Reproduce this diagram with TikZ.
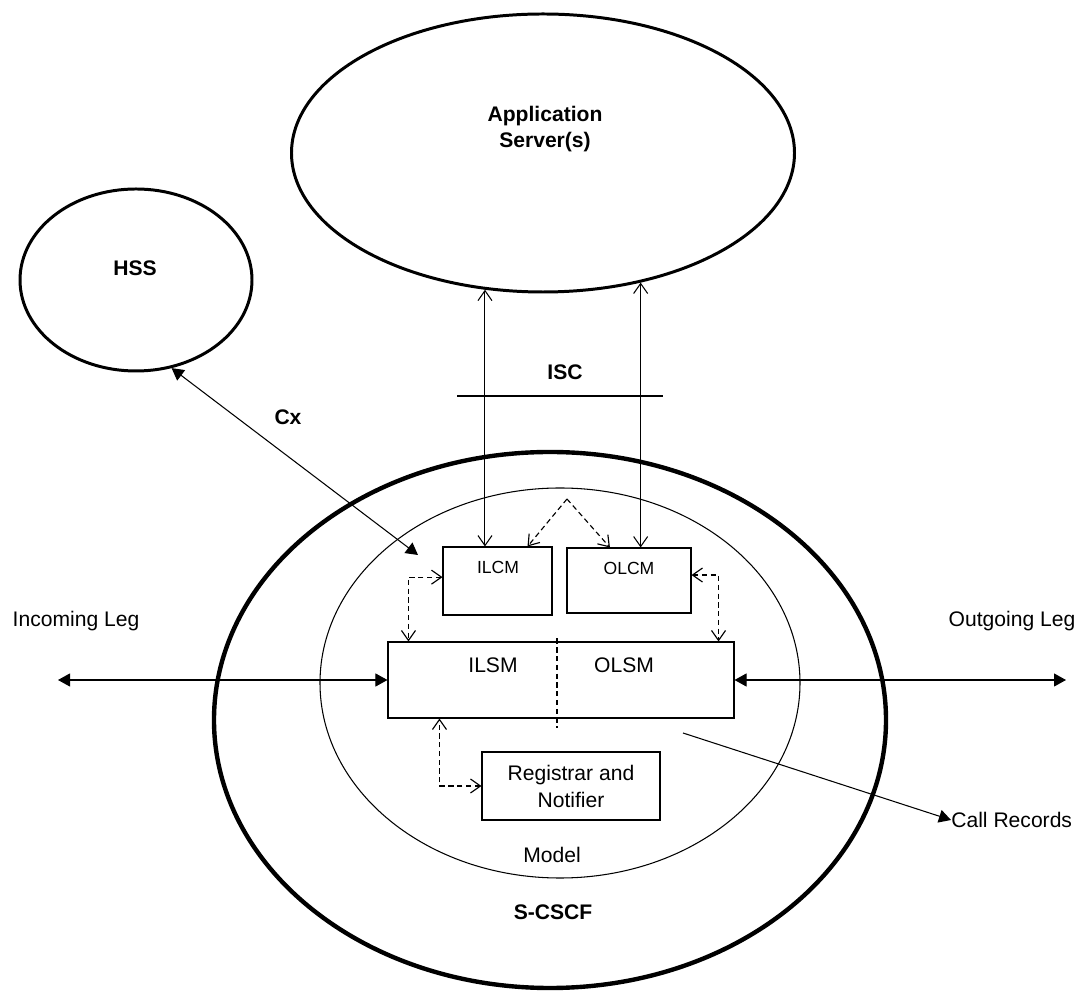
\documentclass[tikz,border=0pt]{standalone}
\usepackage{fontspec}
\setmainfont{Liberation Sans}
\usetikzlibrary{arrows.meta,shapes.geometric}

\tikzset{
  tri/.tip={Triangle[length=2.4mm,width=2.6mm]},
  barb/.tip={Straight Barb[length=2mm,width=2.8mm]}
}

\begin{document}
\begin{tikzpicture}[x=0.2mm,y=-0.2mm,
    font=\fontsize{12}{14.8}\selectfont,
    >=barb,
    thinline/.style={line width=0.6pt},
    oval/.style={draw,ellipse,inner sep=0pt},
    box/.style={draw,rectangle,line width=0.6pt,inner sep=0pt},
    lbl/.style={inner sep=0pt},
    blbl/.style={inner sep=0pt,font=\bfseries\fontsize{12}{14.8}\selectfont},
    solidtip/.style={line width=0.6pt,tri-tri},
    dsh/.style={line width=0.65pt,dash pattern=on 3pt off 2pt}]
				\useasboundingbox (0,0) rectangle (1079,992);
				\node[oval,line width=1.7pt,minimum width=100.6mm,minimum height=55.6mm] (as) at (543,153) {};
				\node[oval,line width=1.7pt,minimum width=46.4mm,minimum height=36.4mm] (hss) at (136,280) {};
				\node[oval,line width=2.5pt,minimum width=134.4mm,minimum height=107.2mm] (scscf) at (550,720) {};
				\node[oval,line width=0.6pt,minimum width=96mm,minimum height=78mm] (model) at (560,683) {};
				\node[blbl,align=center] (astext) at (545,129) {Application\\Server(s)};
				\node[blbl] (hsstext) at (135,268) {HSS};
				\node[box,minimum width=21.8mm,minimum height=13.6mm] (ilcm) at (497.5,581) {};
				\node[box,minimum width=24.8mm,minimum height=13mm] (olcm) at (629,580.5) {};
				\node[box,minimum width=69.2mm,minimum height=15.2mm] (lsm) at (561,680) {};
				\node[box,minimum width=35.6mm,minimum height=13.6mm,align=center,
				      font=\fontsize{12}{15.4}\selectfont] (reg) at (571,786) {Registrar and\\Notifier};
				\node[lbl,font=\fontsize{10}{12}\selectfont] (ilcmtext) at (498,567) {ILCM};
				\node[lbl,font=\fontsize{10}{12}\selectfont] (olcmtext) at (629,568) {OLCM};
				\node[lbl] (ilsmtext) at (493,665) {ILSM};
				\node[lbl] (olsmtext) at (624,665) {OLSM};
				\node[lbl] (modeltext) at (552,855) {Model};
				\node[blbl] (scscftext) at (553,912) {S-CSCF};
				\node[blbl] (isc) at (565,372) {ISC};
				\node[blbl] (cx) at (288,417) {Cx};
				\node[lbl] (inleg) at (76,621) {Incoming Leg};
				\node[lbl] (outleg) at (1012,621) {Outgoing Leg};
				\node[lbl,anchor=west] (callrec) at (951,820) {Call Records};
				\coordinate (fork) at (567,499);
				\coordinate (cxend) at (418,555);
				\coordinate (inend) at (58,680);
				\coordinate (outend) at (1066,680);
				\coordinate (crstart) at (683,733);
				\draw[thinline] (457,396) -- (663,396);
				\draw[thinline,<->] (as.247) -- (as.247 |- ilcm.north);
				\draw[thinline,<->] (as.307.7) -- (as.307.7 |- olcm.north);
				\draw[solidtip] (hss.292) -- (cxend);
				\draw[dsh,->] (fork) -- (ilcm.49);
				\draw[dsh,->] (fork) -- (olcm.120);
				\draw[dsh,<->] (ilcm.176) -| ([xshift=4.2mm]lsm.north west);
				\draw[dsh,<->] (olcm.5) -| ([xshift=-3.2mm]lsm.north east);
				\draw[dsh,<->] (reg.west) -| ([xshift=10.4mm]lsm.south west);
				\draw[line width=0.8pt,dash pattern=on 3pt off 2pt]
				  ([xshift=-0.8mm,yshift=0.6mm]lsm.north) -- ([xshift=-0.8mm,yshift=-1.8mm]lsm.south);
				\draw[solidtip] (inend) -- (lsm.west);
				\draw[solidtip] (lsm.east) -- (outend);
				\draw[thinline,-tri] (crstart) -- (callrec.west);
			\end{tikzpicture}
\end{document}
